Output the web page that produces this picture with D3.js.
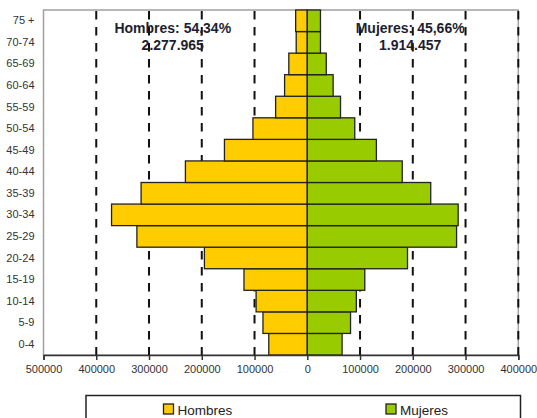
<!DOCTYPE html>
<html>
<head>
<meta charset="utf-8">
<script src="https://cdn.jsdelivr.net/npm/d3@7"></script>
<style>
  html, body { margin: 0; padding: 0; background: #fff; }
  svg { display: block; font-family: "Liberation Sans", Arial, sans-serif; }
</style>
</head>
<body>
<svg id="chart" width="537" height="418"></svg>
<script>
const ageGroups = ["0-4","5-9","10-14","15-19","20-24","25-29","30-34","35-39","40-44","45-49","50-54","55-59","60-64","65-69","70-74","75 +"];
const hombres = [73000, 84000, 97000, 120000, 195000, 323000, 371000, 315000, 231000, 157000, 103000, 60000, 43000, 35000, 21000, 22000];
const mujeres = [66000, 82000, 93000, 109000, 190000, 283000, 286000, 234000, 180000, 131000, 90000, 63000, 49000, 36000, 25000, 25000];
const tickValues = [-500000, -400000, -300000, -200000, -100000, 0, 100000, 200000, 300000, 400000];
const seriesNames = ["Hombres", "Mujeres"];
const seriesColors = ["#ffcc00", "#99cc00"];
const annotations = [
  { lines: ["Hombres: 54,34%", "2.277.965"], at: -255000 },
  { lines: ["Mujeres: 45,66%", "1.914.457"], at: 195000 }
];

(function () {
const svg = d3.select("#chart");
const pLeft = 43.5, pRight = 518.3, pTop = 10, pBottom = 355;

const x = d3.scaleLinear().domain([-500000, 400000]).range([pLeft, pRight]);
const y = d3.scaleBand().domain(ageGroups.slice().reverse()).range([pTop, pBottom]).padding(0);

// plot border
svg.append("rect")
  .attr("x", pLeft).attr("y", pTop)
  .attr("width", pRight - pLeft).attr("height", pBottom - pTop)
  .attr("fill", "#fff").attr("stroke", "#a0a0a0").attr("stroke-width", 1.5);

// dashed gridlines
svg.append("g").selectAll("line")
  .data(tickValues.filter(v => v !== 0 && v !== -500000))
  .join("line")
  .attr("x1", d => x(d)).attr("x2", d => x(d))
  .attr("y1", pTop + 1).attr("y2", pBottom)
  .attr("stroke", "#111").attr("stroke-width", 2)
  .attr("stroke-dasharray", "8.5,7.5");

// bars
const barG = svg.append("g");
barG.selectAll("rect.h")
  .data(ageGroups.map((a, i) => ({ age: a, v: hombres[i] })))
  .join("rect")
  .attr("class", "h")
  .attr("x", d => x(-d.v)).attr("y", d => y(d.age))
  .attr("width", d => x(0) - x(-d.v)).attr("height", y.bandwidth())
  .attr("fill", seriesColors[0]).attr("stroke", "#222").attr("stroke-width", 1.3);
barG.selectAll("rect.m")
  .data(ageGroups.map((a, i) => ({ age: a, v: mujeres[i] })))
  .join("rect")
  .attr("class", "m")
  .attr("x", x(0)).attr("y", d => y(d.age))
  .attr("width", d => x(d.v) - x(0)).attr("height", y.bandwidth())
  .attr("fill", seriesColors[1]).attr("stroke", "#222").attr("stroke-width", 1.3);

// bottom axis
const xAxis = d3.axisBottom(x)
  .tickValues(tickValues)
  .tickFormat(d => String(Math.abs(d)))
  .tickSize(5).tickPadding(5);
const gx = svg.append("g").attr("transform", `translate(0,${pBottom})`).call(xAxis);
gx.select(".domain").attr("stroke", "#333").attr("stroke-width", 1.5);
gx.selectAll(".tick line").attr("stroke", "#333").attr("stroke-width", 1.5);
gx.selectAll(".tick text").attr("fill", "#333").attr("font-size", 11)
  .attr("font-family", "Liberation Sans, Arial, sans-serif");

// left axis labels
const yAxis = d3.axisLeft(y).tickSize(0).tickPadding(9);
const gy = svg.append("g").attr("transform", `translate(${pLeft},0)`).call(yAxis);
gy.select(".domain").remove();
gy.selectAll(".tick text").attr("fill", "#333").attr("font-size", 11)
  .attr("font-family", "Liberation Sans, Arial, sans-serif");

// annotations
annotations.forEach(a => {
  const t = svg.append("text")
    .attr("x", x(a.at)).attr("y", 33)
    .attr("text-anchor", "middle")
    .attr("font-size", 14).attr("font-weight", "bold")
    .attr("fill", "#1e1e30");
  a.lines.forEach((ln, i) => {
    t.append("tspan").attr("x", x(a.at)).attr("dy", i === 0 ? 0 : 17).text(ln);
  });
});

// legend
svg.append("rect")
  .attr("x", 86).attr("y", 395.5)
  .attr("width", 434.5).attr("height", 40)
  .attr("fill", "#fff").attr("stroke", "#222").attr("stroke-width", 1.5);
const legendX = [163.5, 386];
seriesNames.forEach((name, i) => {
  const g = svg.append("g").attr("transform", `translate(${legendX[i]},404)`);
  g.append("rect").attr("width", 10).attr("height", 10)
    .attr("fill", seriesColors[i]).attr("stroke", "#222").attr("stroke-width", 1.3);
  g.append("text").attr("x", 14).attr("y", 10.5)
    .attr("font-size", 13.5).attr("fill", "#222").text(name);
});
})();
</script>
</body>
</html>
